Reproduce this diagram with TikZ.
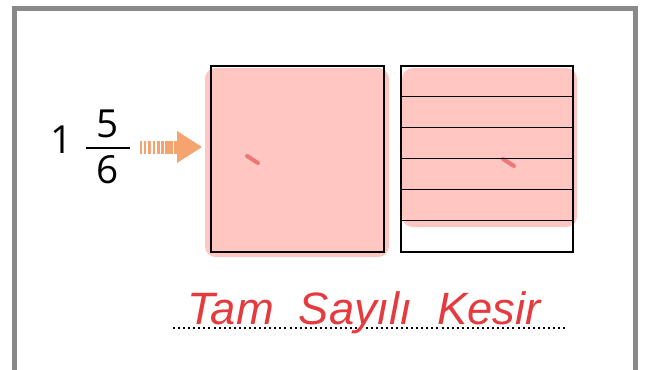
\documentclass[tikz,border=0pt]{standalone}
\usepackage{fontspec}
\setmainfont{Open Sans}
\newfontfamily\handfont{Liberation Sans}

\definecolor{framegray}{HTML}{898989}
\definecolor{markpink}{HTML}{FFC6C2}
\definecolor{arroworange}{HTML}{F5A470}
\definecolor{penred}{HTML}{E53B3F}

\begin{document}
\begin{tikzpicture}
  [x=0.75pt,y=-0.75pt,
   digit/.style={anchor=base,inner sep=0pt,font=\fontsize{29}{30}\selectfont},
   square/.style={draw,line width=1pt,inner sep=0pt,minimum height=139.5pt}]
  \useasboundingbox (0,0) rectangle (651,369);

  % outer frame, open at the bottom
  \draw[framegray,line width=3.75pt] (14.5,385) -- (14.5,8.5) -- (635,8.5) -- (635,385);

  % marker colouring
  \fill[markpink,rounded corners=8pt] (205,68) rectangle (389,257);
  \fill[markpink,rounded corners=8pt] (402,68) rectangle (577,227);
  \draw[penred!70,line width=3pt,line cap=round] (247,156) -- (258,163);
  \draw[penred!70,line width=3pt,line cap=round] (503,159) -- (514,166);

  % the two wholes
  \node[square,minimum width=129.75pt] (whole) at (297.5,159) {};
  \node[square,minimum width=129pt]    (parts) at (487,159) {};
  \foreach \k in {1,...,5}
    \draw[line width=1pt] (parts.north west) ++(0,31*\k) -- ++(172,0);

  % mixed number
  \node[digit] (one) at (62,153)  {1};
  \node[digit] (num) at (108,137) {5};
  \node[digit] (den) at (108,183) {6};
  \draw[line width=1.2pt] (86,148) -- (130,148);

  % striped arrow
  \foreach \i in {0,...,8}
    \fill[arroworange] (140+4.2*\i,140.5) rectangle ++(1.6+0.3*\i,13);
  \fill[arroworange] (174,140.5) rectangle (178,153.5);
  \fill[arroworange] (177,131) -- (202,147) -- (177,163) -- cycle;
  \coordinate (tip) at (202,147);

  % answer on the dotted line
  \coordinate (lineL) at (173,328);
  \coordinate (lineR) at (566,328);
  \draw[line width=1.5pt,dash pattern=on 1.5pt off 2.3pt] (lineL) -- (lineR);
  \node[anchor=base,inner sep=0pt,text=penred,
        font=\handfont\itshape\fontsize{34}{34}\selectfont] (answer) at (364,324)
        {Tam\ \ Sayılı\ \ Kesir};

\end{tikzpicture}
\end{document}
